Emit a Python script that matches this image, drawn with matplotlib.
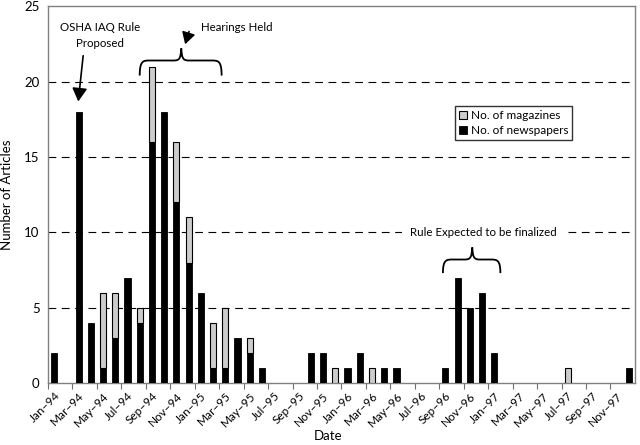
import numpy as np
import matplotlib
matplotlib.use("Agg")
import matplotlib.pyplot as plt
from matplotlib.path import Path
from matplotlib.patches import PathPatch

plt.rcParams['font.family'] = ['Lato', 'DejaVu Sans']

# monthly counts Jan-94 .. Dec-97
months = ['Jan', 'Feb', 'Mar', 'Apr', 'May', 'Jun',
          'Jul', 'Aug', 'Sep', 'Oct', 'Nov', 'Dec']
years = ['94', '95', '96', '97']
dates = [m + '\u2013' + y for y in years for m in months]

newspapers = [2, 0, 18, 4, 1, 3, 7, 4, 16, 18, 12, 8,
              6, 1, 1, 3, 2, 1, 0, 0, 0, 2, 2, 0,
              1, 2, 0, 1, 1, 0, 0, 0, 1, 7, 5, 6,
              2, 0, 0, 0, 0, 0, 0, 0, 0, 0, 0, 1]
magazines = [0, 0, 0, 0, 5, 3, 0, 1, 5, 0, 4, 3,
             0, 3, 4, 0, 1, 0, 0, 0, 0, 0, 0, 1,
             0, 0, 1, 0, 0, 0, 0, 0, 0, 0, 0, 0,
             0, 0, 0, 0, 0, 0, 1, 0, 0, 0, 0, 0]

x = np.arange(len(dates))
news = np.array(newspapers)
mags = np.array(magazines)

fig = plt.figure(figsize=(6.4, 4.45), dpi=100)
ax = fig.add_axes([0.075, 0.139, 0.917, 0.847])

ax.bar(x, news, width=0.5, color='black', edgecolor='black', linewidth=0.6,
       label='No. of newspapers', zorder=3)
mx = mags > 0
ax.bar(x[mx], mags[mx], bottom=news[mx], width=0.5, color='#cccccc',
       edgecolor='black', linewidth=0.8, label='No. of magazines', zorder=3)

ax.set_xlim(-0.5, len(dates) - 0.5)
ax.set_ylim(0, 25)
ax.set_yticks([0, 5, 10, 15, 20, 25])
for g in [5, 10, 15, 20]:
    ax.axhline(g, color='black', lw=0.8, dashes=(7, 5), zorder=1)

# tick marks on month boundaries, labels every second month
ax.set_xticks(x[::2] - 0.5)
ax.set_xticklabels([])
ax.set_xticks(x[::2], minor=True)
ax.set_xticklabels(dates[::2], minor=True, rotation=45, ha='right',
                   va='top', rotation_mode='anchor', fontsize=8.5)
ax.tick_params(axis='x', which='minor', length=0, pad=5)
ax.tick_params(axis='x', which='major', length=4, color='#707070')
ax.tick_params(axis='y', length=0, labelsize=9.5, pad=6)

for s in ax.spines.values():
    s.set_color('#808080')
    s.set_linewidth(1)

ax.set_ylabel('Number of Articles', fontsize=9.5, labelpad=8)
ax.set_xlabel('Date', fontsize=9.5, va='center')
ax.xaxis.set_label_coords(0.477, -0.14)


def brace(x0, x1, xm, y0, y1, ytop):
    verts = [(x0, y0), (x0, y1), (x0 + 0.3, y1), (x0 + 0.8, y1),
             (xm - 0.6, y1), (xm - 0.1, y1), (xm - 0.05, y1 + 0.2),
             (xm, ytop),
             (xm + 0.05, y1 + 0.2), (xm + 0.1, y1), (xm + 0.6, y1),
             (x1 - 0.8, y1), (x1 - 0.3, y1), (x1, y1), (x1, y0)]
    codes = [Path.MOVETO, Path.CURVE4, Path.CURVE4, Path.CURVE4,
             Path.LINETO, Path.CURVE4, Path.CURVE4, Path.CURVE4,
             Path.CURVE4, Path.CURVE4, Path.CURVE4,
             Path.LINETO, Path.CURVE4, Path.CURVE4, Path.CURVE4]
    ax.add_patch(PathPatch(Path(verts, codes), fill=False, lw=1.3,
                           color='black', zorder=4))


brace(7.0, 13.7, 10.4, 20.4, 21.4, 22.2)
brace(31.8, 36.5, 34.2, 7.3, 8.2, 9.0)

ax.text(3.75, 23.05, 'OSHA IAQ Rule\nProposed', ha='center', va='center',
        fontsize=8.3, linespacing=1.6)
ax.annotate('', xy=(1.95, 18.5), xytext=(2.4, 21.9),
            arrowprops=dict(arrowstyle='-|>,head_length=0.8,head_width=0.45',
                            color='black', lw=1.2))
ax.text(14.9, 23.6, 'Hearings Held', ha='center', va='center', fontsize=8.3)
ax.annotate('', xy=(10.65, 22.3), xytext=(11.1, 23.5),
            arrowprops=dict(arrowstyle='-|>,head_length=0.7,head_width=0.4',
                            color='black', lw=1.2))
ax.text(35.1, 10, 'Rule Expected to be finalized', ha='center', va='center',
        fontsize=8.3, zorder=5,
        bbox=dict(facecolor='white', edgecolor='none', pad=6))

h, l = ax.get_legend_handles_labels()
leg = ax.legend(h[::-1], l[::-1], loc='upper left',
                bbox_to_anchor=(0.693, 0.735), fontsize=8.5, frameon=True,
                fancybox=False, edgecolor='black', handlelength=0.7,
                handleheight=0.7, handletextpad=0.3, borderpad=0.35,
                labelspacing=0.3, borderaxespad=0)
leg.get_frame().set_linewidth(1)

fig.savefig('out.png', dpi=100)
